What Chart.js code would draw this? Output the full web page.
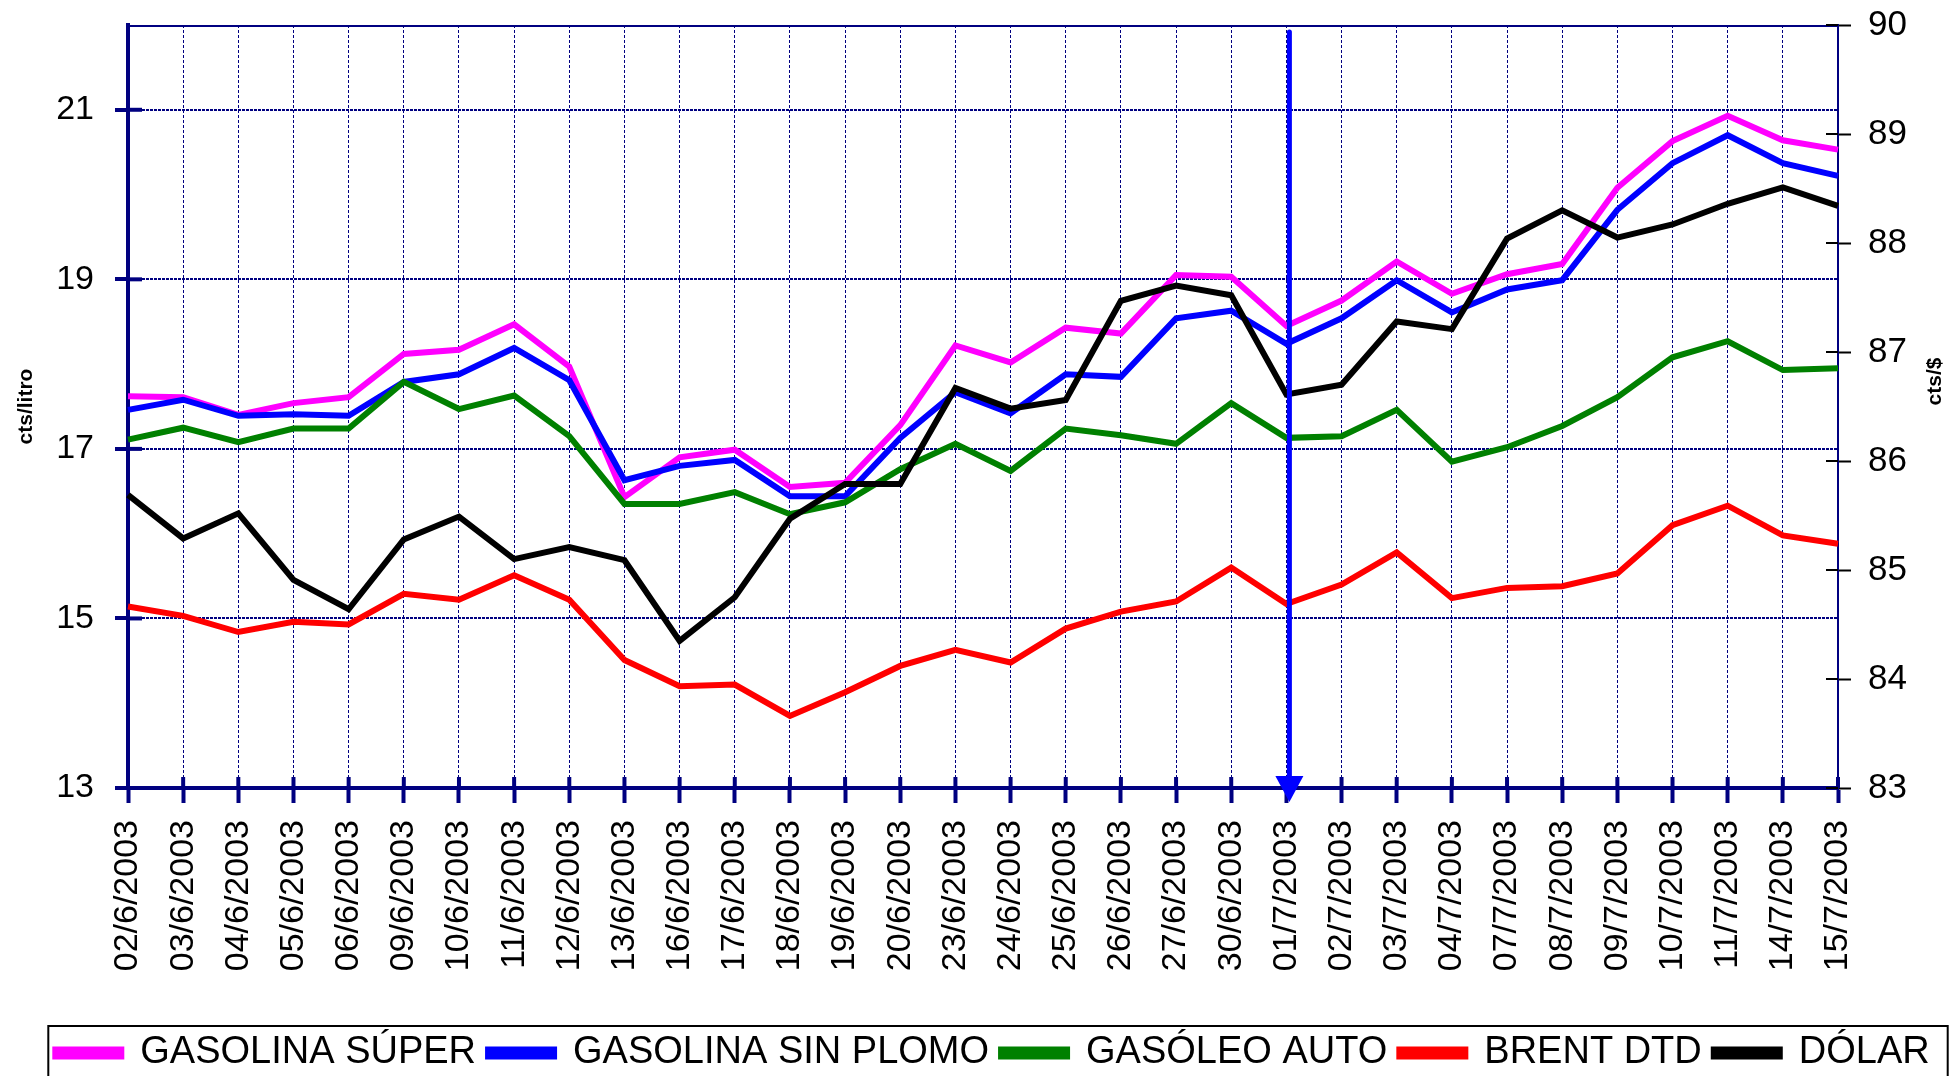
<!DOCTYPE html>
<html>
<head>
<meta charset="utf-8">
<script src="https://cdn.jsdelivr.net/npm/chart.js@4.4.1/dist/chart.umd.min.js"></script>
<style>
  html, body { margin: 0; padding: 0; background: #ffffff; }
  canvas { display: block; }
</style>
</head>
<body>
<canvas id="precios" width="1955" height="1076"></canvas>
<script>
const fechas = [
  '02/6/2003', '03/6/2003', '04/6/2003', '05/6/2003', '06/6/2003', '09/6/2003',
  '10/6/2003', '11/6/2003', '12/6/2003', '13/6/2003', '16/6/2003', '17/6/2003',
  '18/6/2003', '19/6/2003', '20/6/2003', '23/6/2003', '24/6/2003', '25/6/2003',
  '26/6/2003', '27/6/2003', '30/6/2003', '01/7/2003', '02/7/2003', '03/7/2003',
  '04/7/2003', '07/7/2003', '08/7/2003', '09/7/2003', '10/7/2003', '11/7/2003',
  '14/7/2003', '15/7/2003'
];

const gasolinaSuper = [
  17.62, 17.61, 17.40, 17.54, 17.61, 18.12, 18.17, 18.47, 17.97, 16.43, 16.90,
  16.99, 16.55, 16.60, 17.28, 18.22, 18.02, 18.43, 18.36, 19.05, 19.03, 18.45,
  18.75, 19.21, 18.83, 19.06, 19.18, 20.08, 20.63, 20.93, 20.64, 20.53
];

const gasolinaSinPlomo = [
  17.46, 17.58, 17.39, 17.41, 17.39, 17.79, 17.88, 18.19, 17.81, 16.63, 16.80,
  16.87, 16.44, 16.44, 17.13, 17.67, 17.42, 17.88, 17.85, 18.54, 18.63, 18.24,
  18.54, 18.99, 18.61, 18.88, 18.99, 19.82, 20.37, 20.70, 20.37, 20.22
];

const gasoleoAuto = [
  17.11, 17.25, 17.08, 17.24, 17.24, 17.79, 17.47, 17.63, 17.15, 16.35, 16.35,
  16.49, 16.23, 16.37, 16.76, 17.06, 16.74, 17.24, 17.16, 17.06, 17.54, 17.13,
  17.15, 17.46, 16.85, 17.02, 17.27, 17.61, 18.08, 18.27, 17.93, 17.95
];

const brentDtd = [
  15.14, 15.03, 14.84, 14.96, 14.93, 15.29, 15.22, 15.51, 15.22, 14.51, 14.20,
  14.22, 13.85, 14.13, 14.44, 14.63, 14.48, 14.88, 15.08, 15.20, 15.60, 15.17,
  15.40, 15.78, 15.24, 15.36, 15.38, 15.53, 16.10, 16.33, 15.98, 15.88
];

const dolar = [
  85.69, 85.29, 85.52, 84.91, 84.64, 85.28, 85.49, 85.10, 85.21, 85.09, 84.35,
  84.75, 85.47, 85.79, 85.79, 86.67, 86.48, 86.56, 87.47, 87.61, 87.52, 86.61,
  86.70, 87.28, 87.21, 88.04, 88.30, 88.05, 88.17, 88.36, 88.51, 88.34
];

const ticksLitro = [13, 15, 17, 19, 21];
const fechaFlecha = '01/7/2003';

const navy = '#000080';
const fuente = 'Liberation Sans, Arial, sans-serif';

function tituloVertical(ctx, texto, x, y) {
  ctx.save();
  ctx.fillStyle = '#000000';
  ctx.font = 'bold 21px ' + fuente;
  ctx.textAlign = 'center';
  ctx.textBaseline = 'middle';
  ctx.translate(x, y);
  ctx.rotate(-Math.PI / 2);
  ctx.fillText(texto, 0, 0);
  ctx.restore();
}

// sin relleno automatico alrededor de las etiquetas
function fijarEscala(scale, ancho, alto) {
  if (ancho) scale.width = ancho;
  if (alto) scale.height = alto;
  scale.paddingTop = 0;
  scale.paddingBottom = 0;
  scale.paddingLeft = 0;
  scale.paddingRight = 0;
}

// marcas que cruzan el eje, linea superior, flecha, titulos y caja de leyenda
const extras = {
  id: 'extras',
  beforeDatasetsDraw(chart) {
    const ctx = chart.ctx;
    const area = chart.chartArea;
    const x = chart.scales.x;
    const y = chart.scales.y;
    const y2 = chart.scales.y2;
    ctx.save();
    ctx.lineCap = 'butt';
    ctx.strokeStyle = navy;
    ctx.lineWidth = 2;
    ctx.beginPath();
    ctx.moveTo(area.left, area.top + 1);
    ctx.lineTo(area.right, area.top + 1);
    ctx.stroke();

    ctx.lineWidth = 4;
    y.ticks.forEach((t) => {
      const py = y.getPixelForValue(t.value);
      ctx.beginPath();
      ctx.moveTo(area.left, py);
      ctx.lineTo(area.left + 14, py);
      ctx.stroke();
    });
    x.ticks.forEach((t, i) => {
      const px = x.getPixelForTick(i);
      ctx.beginPath();
      ctx.moveTo(px, area.bottom);
      ctx.lineTo(px, area.bottom - 11);
      ctx.stroke();
    });
    ctx.strokeStyle = '#000000';
    ctx.lineWidth = 2;
    y2.ticks.forEach((t) => {
      const py = y2.getPixelForValue(t.value);
      ctx.beginPath();
      ctx.moveTo(area.right, py);
      ctx.lineTo(area.right - 12, py);
      ctx.stroke();
    });
    ctx.restore();
  },
  afterDatasetsDraw(chart) {
    const ctx = chart.ctx;
    const area = chart.chartArea;
    const px = chart.scales.x.getPixelForValue(fechas.indexOf(fechaFlecha)) + 3;
    ctx.save();
    ctx.strokeStyle = '#0000FF';
    ctx.fillStyle = '#0000FF';
    ctx.lineWidth = 5;
    ctx.lineCap = 'round';
    ctx.beginPath();
    ctx.moveTo(px, area.top + 7);
    ctx.lineTo(px, area.bottom - 12);
    ctx.stroke();
    ctx.beginPath();
    ctx.moveTo(px - 14, area.bottom - 12);
    ctx.lineTo(px + 14, area.bottom - 12);
    ctx.lineTo(px, area.bottom + 14);
    ctx.closePath();
    ctx.fill();
    ctx.restore();
  },
  afterDraw(chart) {
    const ctx = chart.ctx;
    const area = chart.chartArea;
    const medio = (area.top + area.bottom) / 2;
    tituloVertical(ctx, 'cts/litro', 26, medio);
    tituloVertical(ctx, 'cts/$', 1935, medio - 25);

    const legend = chart.legend;
    const boxes = legend.legendHitBoxes;
    const first = boxes[0];
    const last = boxes[boxes.length - 1];
    const left = first.left - 7;
    ctx.save();
    ctx.strokeStyle = '#000000';
    ctx.lineWidth = 2;
    ctx.strokeRect(left, legend.top + 4, last.left + last.width + 18 - left, 80);
    ctx.restore();
  }
};

new Chart(document.getElementById('precios'), {
  type: 'line',
  data: {
    labels: fechas,
    datasets: [
      { label: 'GASOLINA SÚPER', data: gasolinaSuper, borderColor: '#FF00FF', backgroundColor: '#FF00FF', yAxisID: 'y', order: 5 },
      { label: 'GASOLINA SIN PLOMO', data: gasolinaSinPlomo, borderColor: '#0000FF', backgroundColor: '#0000FF', yAxisID: 'y', order: 4 },
      { label: 'GASÓLEO AUTO', data: gasoleoAuto, borderColor: '#008000', backgroundColor: '#008000', yAxisID: 'y', order: 3 },
      { label: 'BRENT DTD', data: brentDtd, borderColor: '#FF0000', backgroundColor: '#FF0000', yAxisID: 'y', order: 2 },
      { label: 'DÓLAR', data: dolar, borderColor: '#000000', backgroundColor: '#000000', yAxisID: 'y2', order: 1 }
    ]
  },
  options: {
    responsive: false,
    animation: false,
    layout: { autoPadding: false, padding: { top: 25, left: 30, right: 0, bottom: -6 } },
    elements: {
      line: { borderWidth: 6, tension: 0, fill: false, borderJoinStyle: 'miter' },
      point: { radius: 0, hoverRadius: 0 }
    },
    scales: {
      x: {
        type: 'category',
        offset: false,
        afterFit: (scale) => fijarEscala(scale, 0, 234),
        grid: {
          color: navy,
          lineWidth: 1,
          tickColor: navy,
          tickWidth: 4,
          tickLength: 15,
          tickBorderDash: []
        },
        border: { display: true, color: navy, width: 4, dash: [3, 2] },
        ticks: {
          autoSkip: false,
          minRotation: 90,
          maxRotation: 90,
          padding: 17,
          color: '#000000',
          font: { family: fuente, size: 34 }
        }
      },
      y: {
        type: 'linear',
        position: 'left',
        min: 13,
        max: 22,
        afterBuildTicks: (scale) => {
          scale.ticks = ticksLitro.map((v) => ({ value: v }));
        },
        afterFit: (scale) => fijarEscala(scale, 98, 0),
        grid: {
          color: navy,
          lineWidth: 2,
          tickColor: navy,
          tickWidth: 4,
          tickLength: 13,
          tickBorderDash: []
        },
        border: { display: true, color: navy, width: 4, dash: [3, 1] },
        ticks: {
          padding: 21,
          color: '#000000',
          font: { family: fuente, size: 34 }
        }
      },
      y2: {
        type: 'linear',
        position: 'right',
        min: 83,
        max: 90,
        afterFit: (scale) => fijarEscala(scale, 117, 0),
        grid: {
          drawOnChartArea: false,
          tickColor: '#000000',
          tickWidth: 2,
          tickLength: 13
        },
        border: { display: true, color: navy, width: 2 },
        ticks: {
          stepSize: 1,
          padding: 17,
          color: '#000000',
          font: { family: fuente, size: 35 }
        }
      }
    },
    plugins: {
      legend: {
        position: 'bottom',
        labels: {
          boxWidth: 66,
          boxHeight: 7,
          padding: 12,
          color: '#000000',
          font: { family: fuente, size: 38 },
          sort: (a, b) => a.datasetIndex - b.datasetIndex
        }
      },
      tooltip: { enabled: false }
    }
  },
  plugins: [extras]
});
</script>
</body>
</html>
